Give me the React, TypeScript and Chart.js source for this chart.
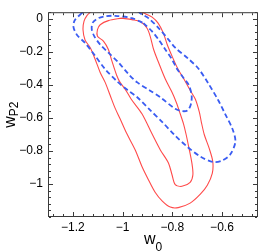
import React, { useEffect, useRef } from "react";
import { Chart, registerables } from "chart.js";

Chart.register(...registerables);

// Axis ranges and tick labels
const xMin = -1.3;
const xMax = -0.455;
const yMin = -1.2;
const yMax = 0.04;
const xTickValues = [-1.2, -1.0, -0.8, -0.6];
const yTickValues = [0, -0.2, -0.4, -0.6, -0.8, -1.0];
const minorStep = 0.04;

// Red (solid) contours: outer and inner
const redOuterW0 = [-1.106, -1.126, -1.142, -1.155, -1.159, -1.151, -1.13, -1.11, -1.09, -1.07, -1.05, -1.03, -1.01, -0.983, -0.949, -0.922, -0.896, -0.869, -0.84, -0.808, -0.776, -0.728, -0.687, -0.659, -0.639, -0.637, -0.651, -0.671, -0.683, -0.691, -0.707, -0.728, -0.752, -0.776, -0.8, -0.82, -0.836, -0.857, -0.881, -0.905, -0.929, -0.961, -1.03, -1.106];
const redOuterWP2 = [0.082, 0.046, 0.022, -0.014, -0.068, -0.128, -0.175, -0.246, -0.325, -0.385, -0.463, -0.541, -0.605, -0.695, -0.794, -0.894, -0.974, -1.05, -1.104, -1.14, -1.143, -1.116, -1.062, -1.008, -0.936, -0.864, -0.786, -0.702, -0.625, -0.565, -0.487, -0.433, -0.367, -0.307, -0.229, -0.157, -0.086, -0.026, 0.01, 0.028, 0.046, 0.076, 0.094, 0.082];

const redInnerW0 = [-1.003, -0.962, -0.929, -0.902, -0.889, -0.875, -0.855, -0.828, -0.801, -0.784, -0.768, -0.755, -0.744, -0.734, -0.721, -0.717, -0.728, -0.761, -0.788, -0.801, -0.815, -0.848, -0.882, -0.922, -0.965, -0.989, -1.01, -1.023, -1.043, -1.057, -1.077, -1.101, -1.101, -1.09, -1.057, -1.003];
const redInnerWP2 = [0.004, -0.005, -0.016, -0.056, -0.105, -0.186, -0.265, -0.365, -0.445, -0.505, -0.575, -0.635, -0.702, -0.774, -0.874, -0.944, -0.99, -1.014, -1.004, -0.944, -0.874, -0.794, -0.695, -0.575, -0.487, -0.427, -0.385, -0.345, -0.255, -0.186, -0.135, -0.105, -0.066, -0.036, -0.011, 0.004];

// Blue (dashed) contours: outer and inner
const blueOuterW0 = [-1.164, -1.191, -1.198, -1.184, -1.151, -1.11, -1.07, -1.022, -0.981, -0.941, -0.889, -0.84, -0.788, -0.74, -0.687, -0.635, -0.599, -0.567, -0.546, -0.558, -0.587, -0.615, -0.655, -0.695, -0.736, -0.788, -0.815, -0.855, -0.896, -0.929, -0.969, -1.07, -1.138, -1.164];
const blueOuterWP2 = [0.034, -0.006, -0.046, -0.096, -0.146, -0.225, -0.305, -0.379, -0.43, -0.475, -0.553, -0.625, -0.708, -0.774, -0.834, -0.867, -0.858, -0.822, -0.744, -0.666, -0.577, -0.493, -0.391, -0.301, -0.241, -0.175, -0.126, -0.056, 0.004, 0.034, 0.082, 0.106, 0.076, 0.034];

const blueInnerW0 = [-0.916, -0.882, -0.855, -0.828, -0.801, -0.78, -0.756, -0.734, -0.722, -0.725, -0.738, -0.76, -0.788, -0.848, -0.889, -0.941, -0.976, -1.016, -1.057, -1.09, -1.114, -1.124, -1.12, -1.097, -1.066, -1.03, -0.962, -0.916];
const blueInnerWP2 = [-0.026, -0.075, -0.126, -0.186, -0.246, -0.305, -0.355, -0.4, -0.463, -0.517, -0.554, -0.559, -0.545, -0.475, -0.435, -0.385, -0.335, -0.265, -0.205, -0.156, -0.105, -0.062, -0.023, 0.004, 0.016, 0.018, 0.004, -0.026];

const RED = "#ff4a4a";
const BLUE = "#3a5cf2";
const FRAME = "#3a3a3a";
const FONT = "'Liberation Sans', Arial, Helvetica, sans-serif";

const zip = (xs: number[], ys: number[]) => xs.map((x, i) => ({ x, y: ys[i] }));

const fmt = (v: number) => {
  const n = Math.round(v * 100) / 100;
  if (n === 0) return "0";
  return String(n).replace("-", "\u2212");
};

const framePlugin = {
  id: "frameTicks",
  afterDraw(chart: any) {
    const { ctx, chartArea, scales } = chart;
    const { left, right, top, bottom } = chartArea;
    const xs = scales.x;
    const ys = scales.y;
    ctx.save();
    ctx.strokeStyle = FRAME;
    ctx.lineWidth = 1;
    ctx.strokeRect(left + 0.5, top + 0.5, right - left - 1, bottom - top - 1);
    const majorLen = 4;
    const minorLen = 2;
    ctx.beginPath();
    const isMajor = (v: number, arr: number[]) => arr.some((m) => Math.abs(m - v) < 1e-6);
    // x ticks
    for (let k = Math.ceil(xMin / minorStep); k * minorStep <= xMax + 1e-9; k++) {
      const v = Math.round(k * minorStep * 1000) / 1000;
      const len = isMajor(v, xTickValues) ? majorLen : minorLen;
      const px = Math.round(xs.getPixelForValue(v)) + 0.5;
      ctx.moveTo(px, bottom - 1);
      ctx.lineTo(px, bottom - 1 - len);
      ctx.moveTo(px, top + 1);
      ctx.lineTo(px, top + 1 + len);
    }
    // y ticks
    for (let k = Math.ceil(yMin / minorStep); k * minorStep <= yMax + 1e-9; k++) {
      const v = Math.round(k * minorStep * 1000) / 1000;
      const len = isMajor(v, yTickValues) ? majorLen : minorLen;
      const py = Math.round(ys.getPixelForValue(v)) + 0.5;
      ctx.moveTo(left + 1, py);
      ctx.lineTo(left + 1 + len, py);
      ctx.moveTo(right - 1, py);
      ctx.lineTo(right - 1 - len, py);
    }
    ctx.stroke();

    // Axis titles with subscripts
    ctx.fillStyle = "#000";
    ctx.textBaseline = "alphabetic";
    ctx.textAlign = "left";
    const mainFont = `16px ${FONT}`;
    const subFont = `12px ${FONT}`;
    // x title: w_0
    ctx.font = mainFont;
    const wW = ctx.measureText("w").width;
    ctx.font = subFont;
    const w0 = ctx.measureText("0").width;
    const cx = (left + right) / 2;
    const startX = cx - (wW + w0) / 2;
    ctx.font = mainFont;
    ctx.fillText("w", startX, bottom + 27);
    ctx.font = subFont;
    ctx.fillText("0", startX + wW, bottom + 34);
    // y title: w_P2 (rotated)
    ctx.font = subFont;
    const wP = ctx.measureText("P2").width;
    const cy = (top + bottom) / 2;
    const total = wW + wP;
    ctx.translate(15, cy + total / 2);
    ctx.rotate(-Math.PI / 2);
    ctx.font = mainFont;
    ctx.fillText("w", 0, 0);
    ctx.font = subFont;
    ctx.fillText("P2", wW, 3);
    ctx.restore();
  },
};

export default function App() {
  const canvasRef = useRef<HTMLCanvasElement | null>(null);

  useEffect(() => {
    const canvas = canvasRef.current;
    if (!canvas) return;
    const lineDs = (label: string, xs: number[], ys: number[], color: string, dashed: boolean) => ({
      label,
      data: zip(xs, ys),
      showLine: true,
      borderColor: color,
      backgroundColor: color,
      borderWidth: dashed ? 1.8 : 1.1,
      borderDash: dashed ? [5, 3] : [],
      pointRadius: 0,
      pointHoverRadius: 0,
      tension: 0.3,
      fill: false,
      clip: 0,
    });
    const chart = new Chart(canvas, {
      type: "scatter",
      data: {
        datasets: [
          lineDs("blue outer", blueOuterW0, blueOuterWP2, BLUE, true),
          lineDs("blue inner", blueInnerW0, blueInnerWP2, BLUE, true),
          lineDs("red outer", redOuterW0, redOuterWP2, RED, false),
          lineDs("red inner", redInnerW0, redInnerWP2, RED, false),
        ],
      },
      options: {
        animation: false,
        responsive: false,
        devicePixelRatio: 1,
        events: [],
        layout: { padding: { left: 0, right: 15, top: 9, bottom: 0 } },
        plugins: { legend: { display: false }, tooltip: { enabled: false }, title: { display: false } },
        scales: {
          x: {
            type: "linear",
            min: xMin,
            max: xMax,
            grid: { display: false, drawTicks: false },
            border: { display: false },
            afterFit: (s: any) => {
              s.height = 35;
            },
            afterBuildTicks: (s: any) => {
              s.ticks = xTickValues.map((v) => ({ value: v }));
            },
            ticks: {
              autoSkip: false,
              maxRotation: 0,
              padding: 3,
              color: "#000",
              font: { family: FONT, size: 12 },
              callback: (v: any) => fmt(Number(v)),
            },
          },
          y: {
            type: "linear",
            min: yMin,
            max: yMax,
            grid: { display: false, drawTicks: false },
            border: { display: false },
            afterFit: (s: any) => {
              s.width = 48;
            },
            afterBuildTicks: (s: any) => {
              s.ticks = yTickValues.map((v) => ({ value: v }));
            },
            ticks: {
              autoSkip: false,
              padding: 5,
              color: "#000",
              font: { family: FONT, size: 12 },
              callback: (v: any) => fmt(Number(v)),
            },
          },
        },
      },
      plugins: [framePlugin],
    });
    return () => chart.destroy();
  }, []);

  return (
    <div style={{ position: "absolute", left: 0, top: 0, width: 273, height: 252, background: "#fff" }}>
      <canvas ref={canvasRef} width={273} height={252} style={{ display: "block" }} />
    </div>
  );
}
